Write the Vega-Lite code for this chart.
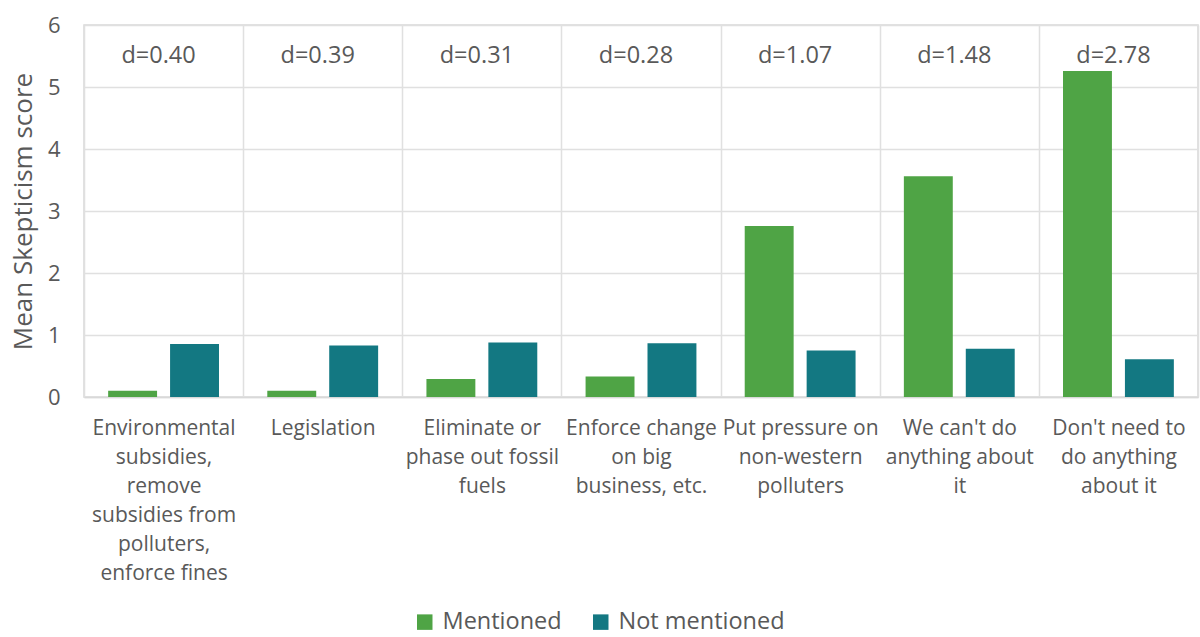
{
  "$schema": "https://vega.github.io/schema/vega-lite/v6.json",
  "width": 1114,
  "height": 372,
  "autosize": {"type": "none"},
  "padding": {"left": 84, "top": 25, "right": 2, "bottom": 240},
  "background": "white",
  "config": {
    "font": "Open Sans",
    "view": {"stroke": "#d9d9d9", "strokeWidth": 1.5},
    "axis": {"labelColor": "#595959", "titleColor": "#595959", "gridColor": "#e0e0e0", "gridWidth": 1.5}
  },
  "datasets": {
    "bars": [
      {"cat": "Environmental|subsidies,|remove|subsidies from|polluters,|enforce fines", "series": "Mentioned", "value": 0.1},
      {"cat": "Environmental|subsidies,|remove|subsidies from|polluters,|enforce fines", "series": "Not mentioned", "value": 0.855},
      {"cat": "Legislation", "series": "Mentioned", "value": 0.1},
      {"cat": "Legislation", "series": "Not mentioned", "value": 0.83},
      {"cat": "Eliminate or|phase out fossil|fuels", "series": "Mentioned", "value": 0.29},
      {"cat": "Eliminate or|phase out fossil|fuels", "series": "Not mentioned", "value": 0.88},
      {"cat": "Enforce change|on big|business, etc.", "series": "Mentioned", "value": 0.33},
      {"cat": "Enforce change|on big|business, etc.", "series": "Not mentioned", "value": 0.865},
      {"cat": "Put pressure on|non-western|polluters", "series": "Mentioned", "value": 2.76},
      {"cat": "Put pressure on|non-western|polluters", "series": "Not mentioned", "value": 0.75},
      {"cat": "We can't do|anything about|it", "series": "Mentioned", "value": 3.56},
      {"cat": "We can't do|anything about|it", "series": "Not mentioned", "value": 0.78},
      {"cat": "Don't need to|do anything|about it", "series": "Mentioned", "value": 5.26},
      {"cat": "Don't need to|do anything|about it", "series": "Not mentioned", "value": 0.61}
    ],
    "dlabels": [
      {"cat": "Environmental|subsidies,|remove|subsidies from|polluters,|enforce fines", "label": "d=0.40"},
      {"cat": "Legislation", "label": "d=0.39"},
      {"cat": "Eliminate or|phase out fossil|fuels", "label": "d=0.31"},
      {"cat": "Enforce change|on big|business, etc.", "label": "d=0.28"},
      {"cat": "Put pressure on|non-western|polluters", "label": "d=1.07"},
      {"cat": "We can't do|anything about|it", "label": "d=1.48"},
      {"cat": "Don't need to|do anything|about it", "label": "d=2.78"}
    ]
  },
  "layer": [
    {
      "data": {"name": "bars"},
      "mark": {"type": "bar"},
      "encoding": {
        "x": {
          "field": "cat", "type": "nominal", "sort": null,
          "scale": {"paddingInner": 0, "paddingOuter": 0},
          "axis": {
            "title": null, "labelAngle": 0, "labelExpr": "split(datum.label, '|')",
            "labelFontSize": 21, "labelLineHeight": 29, "labelLimit": 0, "labelPadding": 20,
            "ticks": false, "grid": true, "tickBand": "extent",
            "domainColor": "#d9d9d9", "domainWidth": 1.5, "labelBaseline": "top"
          }
        },
        "xOffset": {"field": "series", "type": "nominal", "scale": {"paddingInner": 0.21, "paddingOuter": 0.39}},
        "y": {
          "field": "value", "type": "quantitative",
          "scale": {"domain": [0, 6], "nice": false},
          "axis": {
            "title": "Mean Skepticism score", "titleFontSize": 26, "titleFontWeight": "normal", "titlePadding": 11,
            "values": [0, 1, 2, 3, 4, 5, 6], "format": "d", "labelFontSize": 22, "labelPadding": 24,
            "ticks": false, "domain": false, "grid": true
          }
        },
        "color": {
          "field": "series", "type": "nominal",
          "scale": {"domain": ["Mentioned", "Not mentioned"], "range": ["#4FA445", "#137882"]},
          "legend": {
            "title": null, "orient": "none", "legendX": 329, "legendY": 585, "direction": "horizontal",
            "symbolType": "square", "symbolSize": 240, "symbolStrokeWidth": 0, "labelFontSize": 23.5, "labelColor": "#595959",
            "columnPadding": 27, "labelOffset": 6, "labelLimit": 0
          }
        }
      }
    },
    {
      "data": {"name": "dlabels"},
      "mark": {"type": "text", "fontSize": 23.5, "color": "#595959", "baseline": "middle", "align": "center", "dx": -5},
      "encoding": {
        "x": {"field": "cat", "type": "nominal", "sort": null},
        "y": {"datum": 5.5, "type": "quantitative"},
        "text": {"field": "label"}
      }
    }
  ]
}
